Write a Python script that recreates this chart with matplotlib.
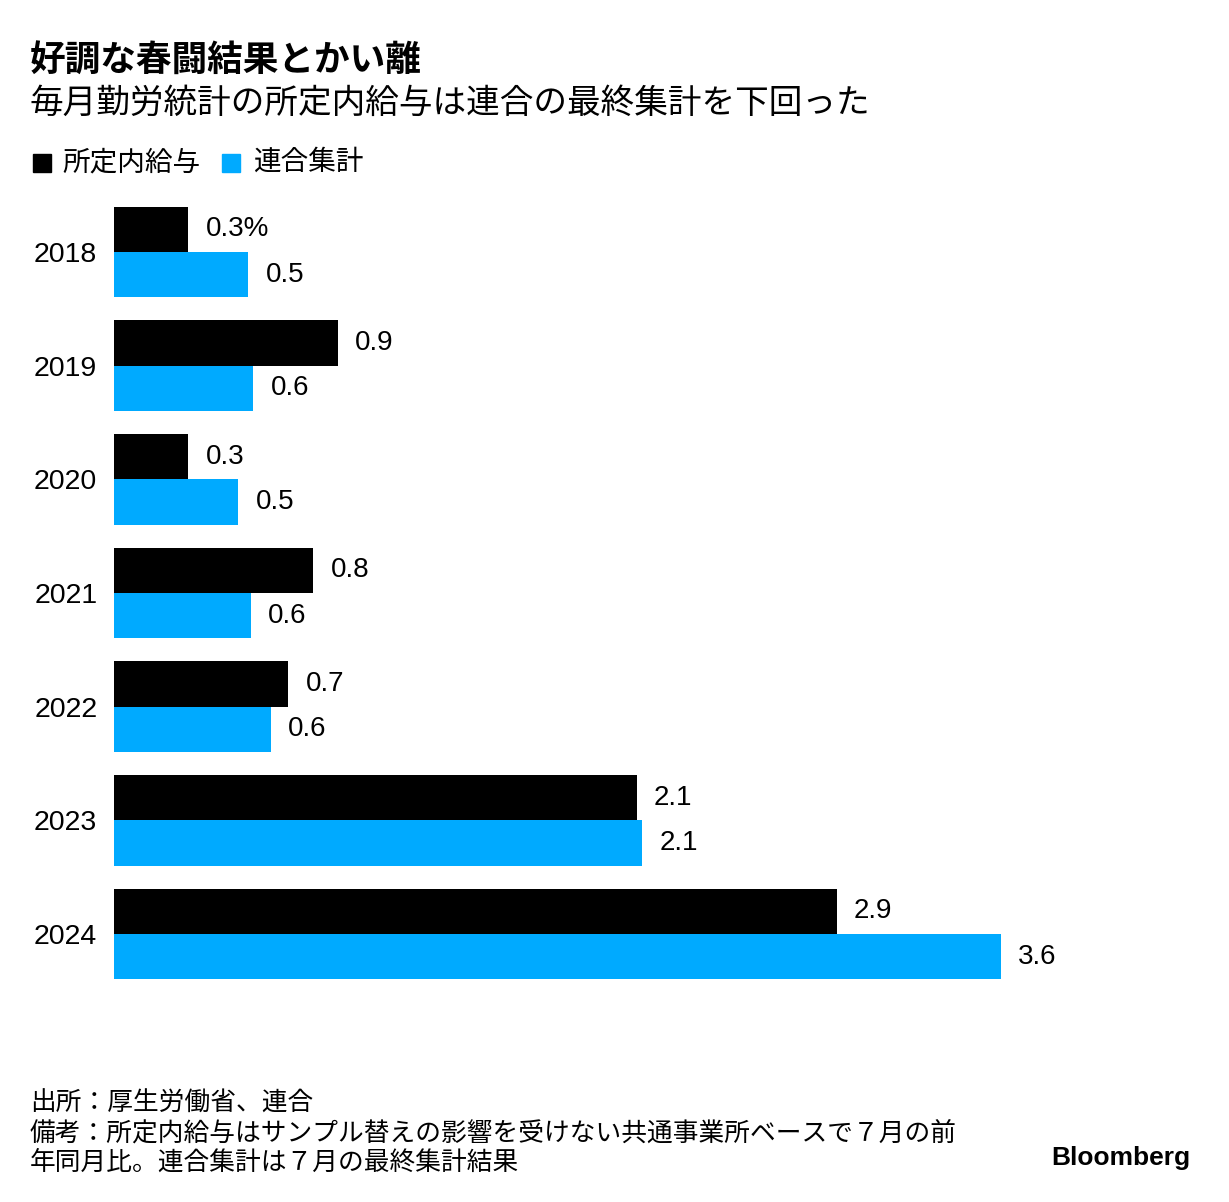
import matplotlib.pyplot as plt
from matplotlib.patches import Rectangle

# data (bar lengths), with the printed labels
years = ['2018', '2019', '2020', '2021', '2022', '2023', '2024']
shoteinai = [0.302, 0.909, 0.302, 0.809, 0.707, 2.121, 2.933]    # 所定内給与
rengo = [0.545, 0.565, 0.505, 0.555, 0.636, 2.143, 3.6]          # 連合集計
shoteinai_labels = ['0.3%', '0.9', '0.3', '0.8', '0.7', '2.1', '2.9']
rengo_labels = ['0.5', '0.6', '0.5', '0.6', '0.6', '2.1', '3.6']

BLACK = '#000000'
BLUE = '#00aaff'
JP = ['Noto Sans CJK JP', 'DejaVu Sans']
NUM = ['Liberation Sans', 'Noto Sans CJK JP']

W, H = 1229, 1202
fig = plt.figure(figsize=(W / 100, H / 100), dpi=100)

# axes placed in pixel terms: x from 114px, y from 200px to 990px
ax_left, ax_right, ax_top, ax_bot = 114, 1180, 200, 990
ax = fig.add_axes([ax_left / W, 1 - ax_bot / H, (ax_right - ax_left) / W, (ax_bot - ax_top) / H])
px_per_unit = (1001 - 114) / 3.6
ax.set_xlim(0, (ax_right - ax_left) / px_per_unit)
pitch = (934 - 252) / 6
ax.set_ylim((ax_bot - 252) / pitch, (ax_top - 252) / pitch)

pos = list(range(len(years)))
h = 0.4
ax.barh([p - h / 2 for p in pos], shoteinai, height=h, color=BLACK)
ax.barh([p + h / 2 for p in pos], rengo, height=h, color=BLUE)

for p, v, lab in zip(pos, shoteinai, shoteinai_labels):
    ax.annotate(lab, (v, p - h / 2), xytext=(12.5, 0), textcoords='offset points',
                va='center', ha='left', fontsize=20, family=NUM)
for p, v, lab in zip(pos, rengo, rengo_labels):
    ax.annotate(lab, (v, p + h / 2), xytext=(12.5, 0), textcoords='offset points',
                va='center', ha='left', fontsize=20, family=NUM)

ax.set_yticks(pos)
ax.set_yticklabels(years, fontsize=20.5, family=NUM)
ax.tick_params(axis='y', length=0, pad=12)
ax.set_xticks([])
for s in ax.spines.values():
    s.set_visible(False)

# titles
fig.text(30 / W, 1 - 60 / H, '好調な春闘結果とかい離', fontsize=25.7, fontweight='bold',
         family=JP, va='center', ha='left')
fig.text(30 / W, 1 - 103 / H, '毎月勤労統計の所定内給与は連合の最終集計を下回った', fontsize=24.2,
         family=JP, va='center', ha='left')

# legend
for x0, col, lab, tx in [(33, BLACK, '所定内給与', 62), (222, BLUE, '連合集計', 253)]:
    fig.patches.append(Rectangle((x0 / W, 1 - 172 / H), 18 / W, 18 / H, color=col,
                                 transform=fig.transFigure, figure=fig))
    fig.text(tx / W, 1 - 162 / H, lab, fontsize=19.9, family=JP, va='center', ha='left')

# footnotes
notes = ['出所：厚生労働省、連合',
         '備考：所定内給与はサンプル替えの影響を受けない共通事業所ベースで７月の前',
         '年同月比。連合集計は７月の最終集計結果']
for i, line in enumerate(notes):
    fig.text(30 / W, 1 - (1104 + i * 29.5) / H, line, fontsize=18.5, family=JP,
             va='center', ha='left')

fig.text(1190 / W, 1 - 1158 / H, 'Bloomberg', fontsize=19, fontweight='bold',
         family=NUM, va='center', ha='right')

fig.savefig('out.png', dpi=100, facecolor='white')
